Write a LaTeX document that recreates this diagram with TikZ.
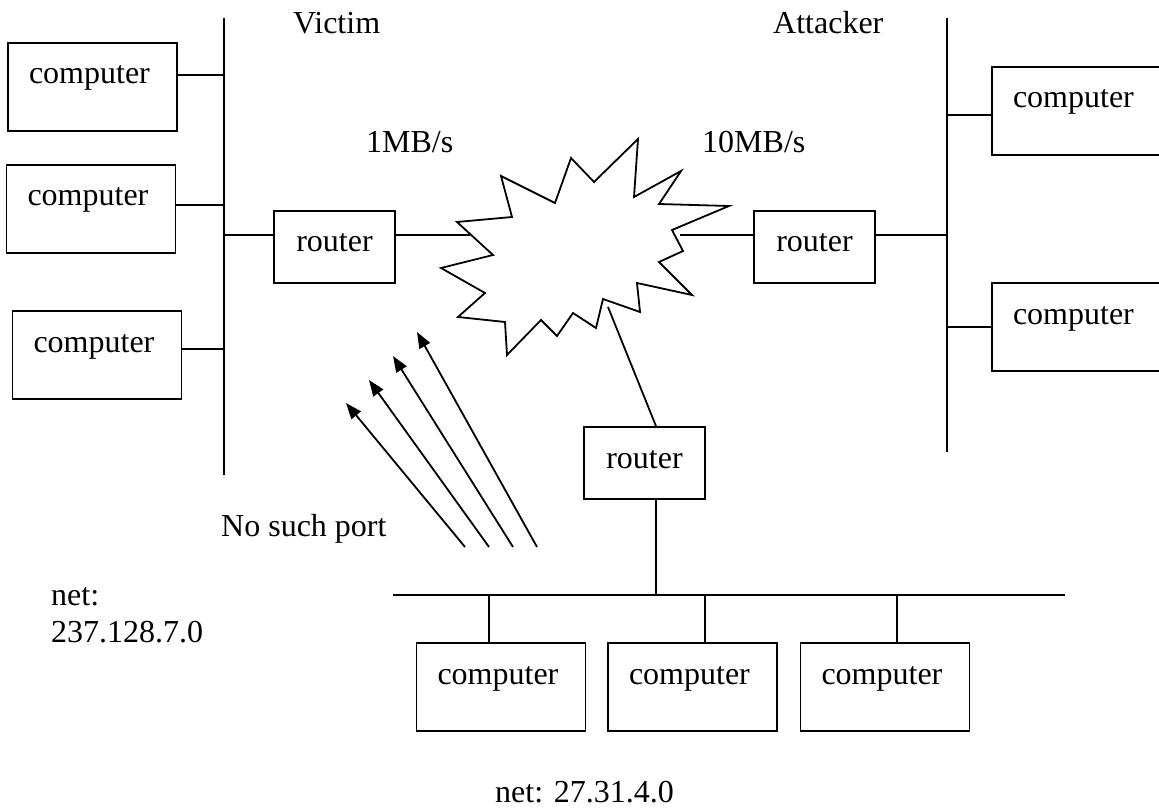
\documentclass[tikz,border=0pt]{standalone}
\usepackage{fontspec}
\setmainfont{Liberation Serif}
\usetikzlibrary{arrows.meta,calc}
\begin{document}
\begin{tikzpicture}[x=1pt,y=-1pt,
  font=\fontsize{32}{38}\selectfont,
  wire/.style={line width=1.8pt},
  pcbox/.style={draw,line width=1.8pt,inner xsep=21pt,inner ysep=11pt,
    text width=127pt,align=left,text height=30pt,text depth=36pt},
  routerbox/.style={draw,line width=1.8pt,minimum width=121pt,inner xsep=0pt,
    inner ysep=11pt,text height=30pt,text depth=20pt},
  caption/.style={anchor=base west,inner sep=0pt},
  probe/.style={line width=1.8pt,-{Triangle[length=16pt,width=12pt]}}]

\useasboundingbox (0,0) rectangle (1159,810);
\clip (0,0) rectangle (1159,810);

% ---- victim network 237.128.7.0 ----
\node[pcbox] (vpc1) at (92.5,87) {computer};
\node[pcbox] (vpc2) at (91,209) {computer};
\node[pcbox] (vpc3) at (97,355) {computer};
\node[routerbox] (vrt) at (334.5,247) {router};
\coordinate (vtop) at (224,18);
\coordinate (vbot) at (224,475);
\draw[wire] (vtop) -- (vbot);

\path ($(vpc1.east)+(0,-12)$) coordinate (v1p);
\path ($(vpc2.east)+(0,-4)$) coordinate (v2p);
\path ($(vpc3.east)+(0,-6)$) coordinate (v3p);
\path ($(vrt.west)+(0,-12)$) coordinate (vrw);
\path ($(vrt.east)+(0,-12)$) coordinate (vre);
\draw[wire] (v1p) -- (v1p -| vtop);
\draw[wire] (v2p) -- (v2p -| vtop);
\draw[wire] (v3p) -- (v3p -| vtop);
\draw[wire] (vrw) -- (vrw -| vtop);

% ---- internet cloud ----
\draw[wire,line join=miter]
  (501,176) -- (555,203) -- (571,158) -- (594,182) -- (638,139) -- (634,197)
  -- (681,171) -- (659,204) -- (729,206) -- (672,230) -- (683,251) -- (659,262)
  -- (692,295) -- (637,283) -- (640,312) -- (603,299) -- (596,328) -- (573,313)
  -- (557,336) -- (541,320) -- (507,355) -- (505,322) -- (458,317) -- (485,293)
  -- (441,268) -- (493,255) -- (457,222) -- (512,217) -- cycle;
\coordinate (cloudW) at (470,235);
\coordinate (cloudE) at (680,235);
\coordinate (cloudS) at (608,307);
\draw[wire] (vre) -- (cloudW);

% ---- attacker network ----
\node[routerbox] (art) at (814.5,247) {router};
\node[pcbox] (apc1) at (1076.5,111) {computer};
\node[pcbox] (apc2) at (1076.5,327) {computer};
\coordinate (atop) at (947,18);
\coordinate (abot) at (947,452);
\draw[wire] (atop) -- (abot);
\path ($(art.west)+(0,-12)$) coordinate (arw);
\path ($(art.east)+(0,-12)$) coordinate (are);
\path ($(apc1.west)+(0,4)$) coordinate (a1p);
\draw[wire] (cloudE) -- (arw);
\draw[wire] (are) -- (are -| atop);
\draw[wire] (a1p) -- (a1p -| atop);
\draw[wire] (apc2.west) -- (apc2.west -| atop);

% ---- network 27.31.4.0 ----
\node[routerbox] (nrt) at (644.5,463) {router};
\node[pcbox] (npc1) at (501,687) {computer};
\node[pcbox] (npc2) at (692.5,687) {computer};
\node[pcbox] (npc3) at (885,687) {computer};
\coordinate (nleft) at (393,595);
\coordinate (nright) at (1065,595);
\draw[wire] (nleft) -- (nright);
\path ($(nrt.north)+(11.5,0)$) coordinate (ntp);
\path ($(nrt.south)+(11.5,0)$) coordinate (nbp);
\draw[wire] (ntp) -- (cloudS);
\draw[wire] (nbp) -- (nbp |- nleft);
\path ($(npc1.north)+(-12,0)$) coordinate (n1p);
\path ($(npc2.north)+(12.5,0)$) coordinate (n2p);
\path ($(npc3.north)+(12,0)$) coordinate (n3p);
\draw[wire] (n1p) -- (n1p |- nleft);
\draw[wire] (n2p) -- (n2p |- nleft);
\draw[wire] (n3p) -- (n3p |- nleft);

% ---- port-unreachable replies ----
\coordinate (p1s) at (465,547); \coordinate (p1e) at (346,403);
\coordinate (p2s) at (489,547); \coordinate (p2e) at (369,380);
\coordinate (p3s) at (513,547); \coordinate (p3e) at (393,356);
\coordinate (p4s) at (537,547); \coordinate (p4e) at (417,332);
\draw[probe] (p1s) -- (p1e);
\draw[probe] (p2s) -- (p2e);
\draw[probe] (p3s) -- (p3e);
\draw[probe] (p4s) -- (p4e);

% ---- labels ----
\node[caption] (lvictim) at (293,34) {Victim};
\node[caption] (lattacker) at (773,34) {Attacker};
\node[caption] (lslow) at (366,153) {1MB/s};
\node[caption] (lfast) at (702,153) {10MB/s};
\node[caption] (lport) at (221,536) {No such port};
\node[caption] (lnet1a) at (51,605) {net:};
\node[caption] (lnet1b) at (51,642) {237.128.7.0};
\node[caption] (lnet2) at (495,802) {net: 27.31.4.0};
\end{tikzpicture}
\end{document}
